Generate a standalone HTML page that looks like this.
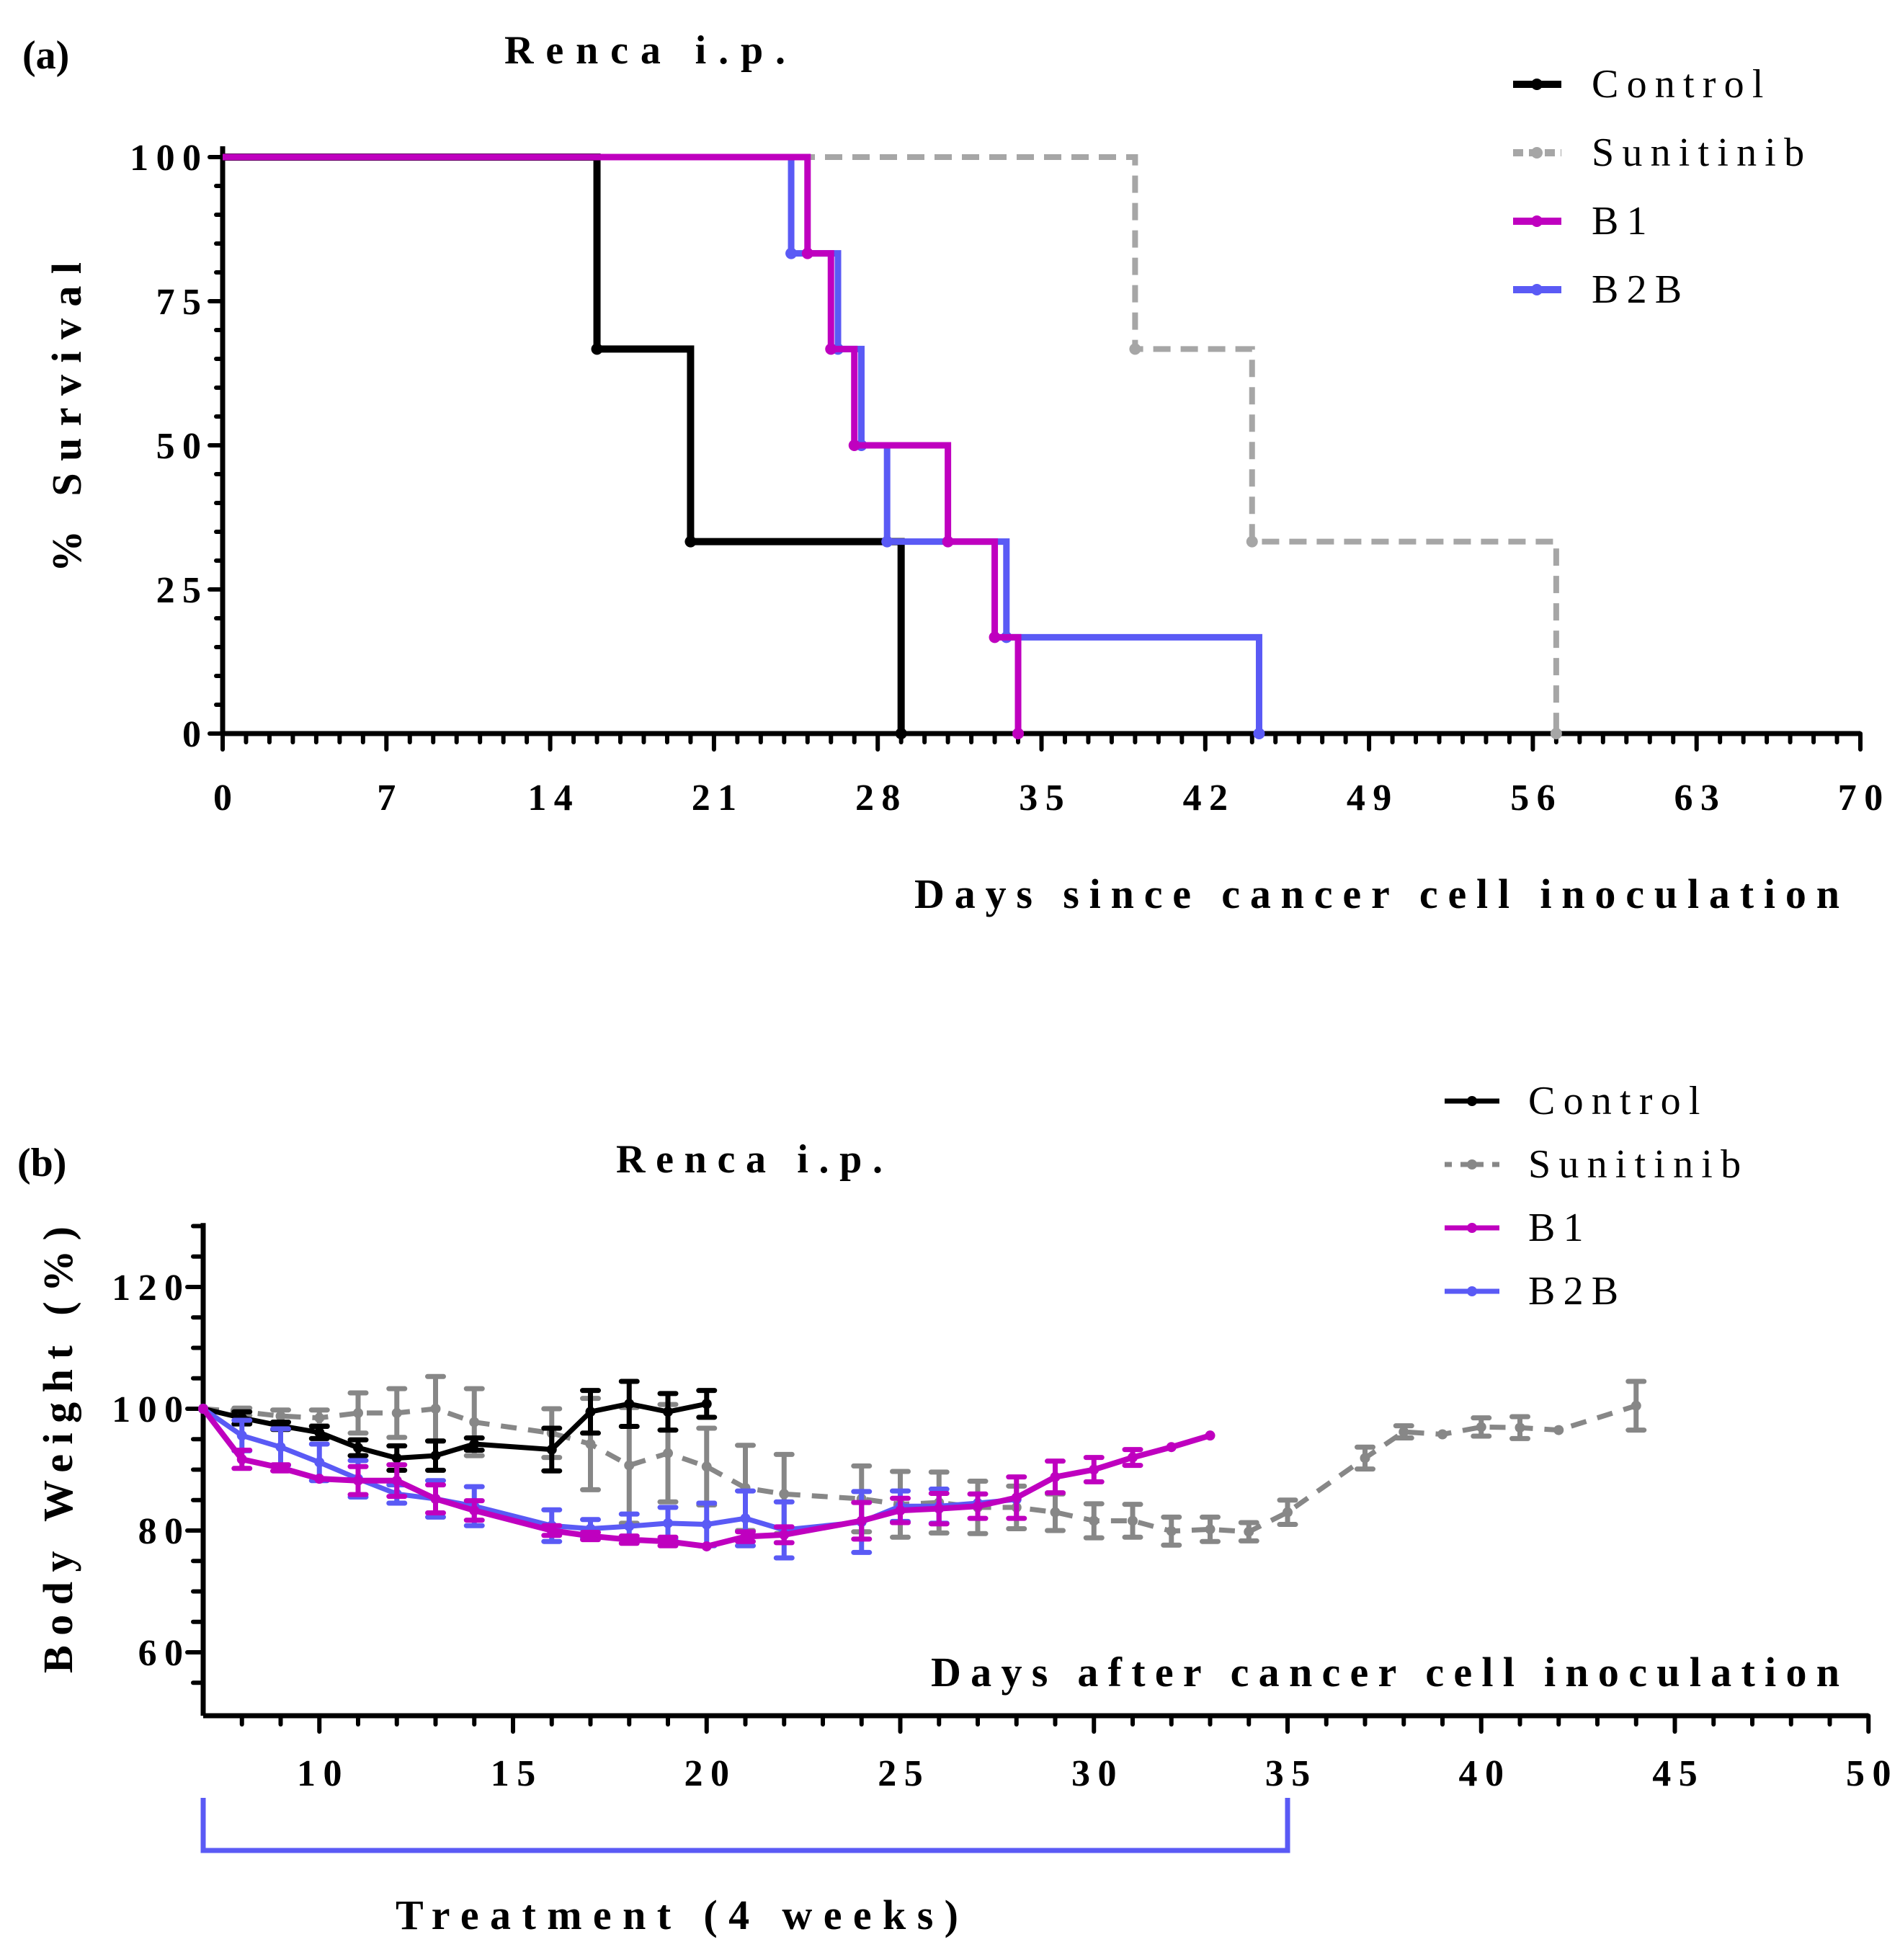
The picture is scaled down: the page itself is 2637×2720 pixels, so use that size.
<!DOCTYPE html>
<html><head><meta charset="utf-8"><style>
html,body{margin:0;padding:0;background:#fff}
svg{display:block}
text{font-family:"Liberation Serif",serif;font-weight:bold;fill:#000}
text.leg{font-weight:normal}
</style></head><body>
<svg id="fig" width="2637" height="2720" viewBox="0 0 2637 2720" xmlns="http://www.w3.org/2000/svg">
<g id="pa">
<text x="31" y="95" font-size="56">(a)</text>
<text x="700" y="88" font-size="56" textLength="390" lengthAdjust="spacing">Renca i.p.</text>
<text x="1269" y="1260" font-size="58" textLength="1284" lengthAdjust="spacing">Days since cancer cell inoculation</text>
<text transform="translate(112,579) rotate(-90)" text-anchor="middle" font-size="58" textLength="430" lengthAdjust="spacing">% Survival</text>
</g>
<g id="pb">
<text x="24" y="1632" font-size="56">(b)</text>
<text x="855" y="1627" font-size="56" textLength="370" lengthAdjust="spacing">Renca i.p.</text>
<text x="1292" y="2340" font-size="58" textLength="1261" lengthAdjust="spacing">Days after cancer cell inoculation</text>
<text transform="translate(100,2012) rotate(-90)" text-anchor="middle" font-size="58" textLength="620" lengthAdjust="spacing">Body Weight (%)</text>
<path d="M282,2495 V2568 H1787 V2495" fill="none" stroke="#5a5af5" stroke-width="7"/>
<text x="549" y="2677" font-size="58" textLength="781" lengthAdjust="spacing">Treatment (4 weeks)</text>
</g>
</svg>
<script>
// ===== Panel (a) data: survival steps =====
const survSeries = ['Control','Sunitinib','B1','B2B'];
const ctrlDays = [16, 20, 29];
const ctrlSurv = [66.7, 33.3, 0];
const suniDays = [39, 44, 57];
const suniSurv = [66.7, 33.3, 0];
const b1Days = [25, 26, 27, 31, 33, 34];
const b1Surv = [83.3, 66.7, 50, 33.3, 16.7, 0];
const b2bDays = [24.3, 26.3, 27.3, 28.4, 33.5, 44.3];
const b2bSurv = [83.3, 66.7, 50, 33.3, 16.7, 0];
const survXTicks = [0,7,14,21,28,35,42,49,56,63,70];
const survYTicks = [0,25,50,75,100];

// ===== Panel (b) data: body weight =====
const wXTicks = [10,15,20,25,30,35,40,45,50];
const wYTicks = [60,80,100,120];
const ctrlWDays = [7,8,9,10,11,12,13,14,16,17,18,19,20];
const ctrlW = [100,98.5,97.2,96.1,93.6,91.9,92.3,94.2,93.3,99.5,100.8,99.5,100.8];
const ctrlWErr = [0,1,0.6,1,1.3,2,2.4,1,3.5,3.5,3.7,3,2.2];
const suniWDays = [7,8,9,10,11,12,13,14,16,17,18,19,20,21,22,24,25,26,27,28,29,30,31,32,33,34,35,37,38,39,40,41,42,44];
const suniW = [100,99.5,98.8,98.5,99.3,99.3,100,97.8,96,94.2,90.7,92.7,90.5,87,86,85.2,84.3,84.6,83.8,83.8,83,81.6,81.6,79.9,80.2,79.8,83,91.9,96.2,95.8,97,96.9,96.5,100.5];
const suniWErr = [0,0.6,1,1.3,3.3,4,5.3,5.5,4,7.5,9.5,8,6.3,7,6.5,5.4,5.4,5,4.3,3.5,3,2.8,2.7,2.3,2,1.5,2,1.8,1,0,1.5,1.8,0,4];
const b1WDays = [7,8,9,10,11,12,13,14,16,17,18,19,20,21,22,24,25,26,27,28,29,30,31,32,33];
const b1W = [100,91.7,90.3,88.5,88.2,88.2,85.2,83.3,80,79.1,78.5,78.2,77.4,79,79.3,81.6,83.3,83.6,84,85.4,88.8,90,92,93.7,95.6];
const b1WErr = [0,1.5,0.5,0,2.3,2.6,2.3,1.6,0.8,0.6,0.6,0.7,0,0.8,1.3,3,2,2.5,2,3.4,2.6,2,1.3,0,0];
const b2bWDays = [7,8,9,10,11,12,13,14,16,17,18,19,20,21,22,24,25,26,27,28];
const b2bW = [100,95.6,93.7,91.2,88.5,86,85.2,84,80.8,80.3,80.7,81.2,81,82,80.1,81.4,84,84,84.5,85.1];
const b2bWErr = [0,2.5,3,3,3,1.5,3,3.2,2.6,1.5,2,2.6,3.5,4.5,4.6,5,2.5,2.8,0,0];

const NS='http://www.w3.org/2000/svg';
const svg=document.getElementById('fig');
function mk(tag,attrs,parent){const e=document.createElementNS(NS,tag);for(const k in attrs)e.setAttribute(k,attrs[k]);(parent||svg).appendChild(e);return e;}

// ---------- Panel (a) axes ----------
const ax0=309, ax1=2582, ay0=1018, ay1=218;
const sx=d=>ax0+(d-0)/70*(ax1-ax0);
const sy=v=>ay0-(v/100)*(ay0-ay1);
const ga=document.getElementById('pa');
let yl=mk('line',{x1:ax0,y1:ay0,x2:ax0,y2:ay1-15,stroke:'#000','stroke-width':7},ga);


let xl=mk('line',{x1:ax0,y1:ay0,x2:ax1,y2:ay0,stroke:'#000','stroke-width':7},ga);


for(let v=0;v<=100;v+=5){const maj=v%25===0;const t=mk('line',{x1:ax0-(maj?18:9),y1:sy(v),x2:ax0,y2:sy(v),stroke:'#000','stroke-width':6,'stroke-linecap':'round'},ga);

}
for(let d=0;d<=70;d++){const maj=d%7===0;const t=mk('line',{x1:sx(d),y1:ay0,x2:sx(d),y2:ay0+(maj?22:12),stroke:'#000','stroke-width':6,'stroke-linecap':'round'},ga);

}
survYTicks.forEach(v=>{const t=mk('text',{x:ax0-30,y:sy(v)+18,'text-anchor':'end','font-size':52},ga);t.textContent=String(v).split('').join('\u2009');

});
survXTicks.forEach(v=>{const t=mk('text',{x:sx(v),y:1124,'text-anchor':'middle','font-size':52},ga);t.textContent=String(v).split('').join('\u2009');

});

function stepPath(days,surv){let d=`M${sx(0)},${sy(100)}`;let prev=100;days.forEach((x,i)=>{d+=` H${sx(x)} V${sy(surv[i])}`;prev=surv[i];});if(prev>0)d+=` H${ax1}`;return d;}
const survDefs=[
 {name:'control',days:ctrlDays,surv:ctrlSurv,color:'#000',dash:null,w:10},
 {name:'sunitinib',days:suniDays,surv:suniSurv,color:'#a6a6a6',dash:'24,14',w:8},
 {name:'b2b',days:b2bDays,surv:b2bSurv,color:'#5a5af5',dash:null,w:9},
 {name:'b1',days:b1Days,surv:b1Surv,color:'#bf00bf',dash:null,w:9}];
survDefs.forEach(s=>{
 const p=mk('path',{d:stepPath(s.days,s.surv),fill:'none',stroke:s.color,'stroke-width':s.w},ga);
 if(s.dash)p.setAttribute('stroke-dasharray',s.dash);
 
 
 s.days.forEach((x,i)=>{const c=mk('circle',{cx:sx(x),cy:sy(s.surv[i]),r:8,fill:s.color},ga);
 
 });
});
// legend a
const legA=[['Control','#000',null],['Sunitinib','#a6a6a6','14,8'],['B1','#bf00bf',null],['B2B','#5a5af5',null]];
legA.forEach((l,i)=>{const y=117+i*95;
 const g=mk('g',{},ga);
 
 
 const ln=mk('line',{x1:2100,y1:y,x2:2167,y2:y,stroke:l[1],'stroke-width':10},g);if(l[2])ln.setAttribute('stroke-dasharray',l[2]);
 mk('circle',{cx:2133,cy:y,r:8,fill:l[1]},g);
 const t=mk('text',{x:2209,y:y+18,'font-size':56,'class':'leg'},g);t.textContent=l[0].split('').join('\u2009');
});

// ---------- Panel (b) axes ----------
const bx0=282, by0=2381;
const bsx=d=>bx0+(d-7)*53.75;
const bsy=v=>1955-(v-100)*8.45;
const gb=document.getElementById('pb');
let yb=mk('line',{x1:bx0,y1:by0,x2:bx0,y2:bsy(130.5),stroke:'#000','stroke-width':7},gb);


let xb=mk('line',{x1:bx0,y1:by0,x2:bsx(50),y2:by0,stroke:'#000','stroke-width':7},gb);


for(let v=55;v<=130;v+=5){const maj=v%20===0;const t=mk('line',{x1:bx0-(maj?22:14),y1:bsy(v),x2:bx0,y2:bsy(v),stroke:'#000','stroke-width':6,'stroke-linecap':'round'},gb);

}
for(let d=8;d<=50;d++){const maj=d%5===0;const t=mk('line',{x1:bsx(d),y1:by0,x2:bsx(d),y2:by0+(maj?22:12),stroke:'#000','stroke-width':6,'stroke-linecap':'round'},gb);

}
wYTicks.forEach(v=>{const t=mk('text',{x:bx0-28,y:bsy(v)+18,'text-anchor':'end','font-size':52},gb);t.textContent=String(v).split('').join('\u2009');

});
wXTicks.forEach(v=>{const t=mk('text',{x:bsx(v),y:2478,'text-anchor':'middle','font-size':52},gb);t.textContent=String(v).split('').join('\u2009');

});

const wDefs=[
 {name:'sunitinib',days:suniWDays,val:suniW,err:suniWErr,color:'#878787',dash:'22,16',w:7},
 {name:'control',days:ctrlWDays,val:ctrlW,err:ctrlWErr,color:'#000',dash:null,w:7},
 {name:'b2b',days:b2bWDays,val:b2bW,err:b2bWErr,color:'#5a5af5',dash:null,w:7},
 {name:'b1',days:b1WDays,val:b1W,err:b1WErr,color:'#bf00bf',dash:null,w:8}];
wDefs.forEach(s=>{
 const pts=s.days.map((d,i)=>bsx(d)+','+bsy(s.val[i])).join(' ');
 const pl=mk('polyline',{points:pts,fill:'none',stroke:s.color,'stroke-width':s.w,'stroke-linejoin':'round'},gb);
 if(s.dash)pl.setAttribute('stroke-dasharray',s.dash);
 
 
 s.days.forEach((d,i)=>{
  const x=bsx(d),y=bsy(s.val[i]),e=s.err[i];
  if(e>0){
   const eb=mk('path',{d:`M${x},${bsy(s.val[i]+e)} V${bsy(s.val[i]-e)} M${x-11},${bsy(s.val[i]+e)} H${x+11} M${x-11},${bsy(s.val[i]-e)} H${x+11}`,stroke:s.color,'stroke-width':7,'stroke-linecap':'round',fill:'none'},gb);
   
   
  }
  const c=mk('circle',{cx:x,cy:y,r:7,fill:s.color},gb);
  
  
 });
});
// legend b
const legB=[['Control','#000',null],['Sunitinib','#878787','10,12'],['B1','#bf00bf',null],['B2B','#5a5af5',null]];
legB.forEach((l,i)=>{const y=1528+i*88;
 const g=mk('g',{},gb);
 
 
 const ln=mk('line',{x1:2005,y1:y,x2:2081,y2:y,stroke:l[1],'stroke-width':7},g);if(l[2])ln.setAttribute('stroke-dasharray',l[2]);
 mk('circle',{cx:2043,cy:y,r:7,fill:l[1]},g);
 const t=mk('text',{x:2121,y:y+18,'font-size':56,'class':'leg'},g);t.textContent=l[0].split('').join('\u2009');
});
</script>
</body></html>
